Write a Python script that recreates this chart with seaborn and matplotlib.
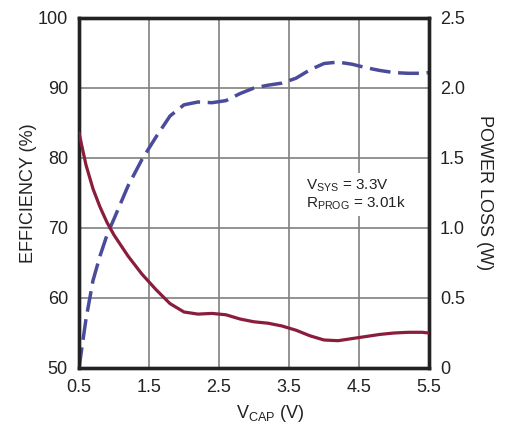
import matplotlib
matplotlib.use("Agg")
import matplotlib.pyplot as plt
import seaborn as sns
import pandas as pd

vcap = [0.5, 0.6, 0.7, 0.8, 0.9, 1.0, 1.2, 1.4, 1.6, 1.8, 2.0, 2.2, 2.4, 2.6, 2.8,
        3.0, 3.2, 3.4, 3.6, 3.8, 4.0, 4.2, 4.4, 4.6, 4.8, 5.0, 5.2, 5.4, 5.5]
efficiency = [50, 57, 62.5, 66, 69, 71.3, 76, 79.8, 83, 86, 87.6, 88.0, 87.9, 88.2, 89.2,
              90.0, 90.4, 90.7, 91.4, 92.6, 93.5, 93.7, 93.4, 92.9, 92.5, 92.2, 92.1, 92.1, 92.2]
power_loss = [1.68, 1.45, 1.28, 1.15, 1.04, 0.95, 0.80, 0.67, 0.56, 0.46, 0.40, 0.385, 0.39, 0.38, 0.35,
              0.33, 0.32, 0.30, 0.27, 0.23, 0.20, 0.195, 0.21, 0.225, 0.24, 0.25, 0.255, 0.255, 0.25]
x_ticks = [0.5, 1.5, 2.5, 3.5, 4.5, 5.5]
eff_ticks = [50, 60, 70, 80, 90, 100]
pl_ticks = [0, 0.5, 1.0, 1.5, 2.0, 2.5]
pl_labels = ["0", "0.5", "1.0", "1.5", "2.0", "2.5"]

df = pd.DataFrame({"vcap": vcap, "eff": efficiency, "pl": power_loss})

sns.set_style("white")
fam = "Liberation Sans"
plt.rcParams["font.family"] = [fam, "DejaVu Sans"]
plt.rcParams["mathtext.fontset"] = "custom"
plt.rcParams["mathtext.rm"] = fam

fig = plt.figure(figsize=(5.08, 4.28), dpi=100)
ax = fig.add_axes([79/508, 60/428, 350/508, 350/428])
ax2 = ax.twinx()

blue = "#4b4b9b"
red = "#8a1c3c"
ink = "#222222"

sns.lineplot(data=df, x="vcap", y="eff", ax=ax, color=blue, lw=2.5, zorder=3)
ax.lines[-1].set_dashes([6, 2.2])
sns.lineplot(data=df, x="vcap", y="pl", ax=ax2, color=red, lw=2.3, zorder=3)

ax.set_xlim(0.5, 5.5)
ax.set_ylim(50, 100)
ax2.set_ylim(0, 2.5)
ax.set_xticks(x_ticks)
ax.set_xticklabels([str(t) for t in x_ticks])
ax.set_yticks(eff_ticks)
ax2.set_yticks(pl_ticks)
ax2.set_yticklabels(pl_labels)

ax.grid(True, color="#808080", lw=1.2)
ax.set_axisbelow(True)
for a in (ax, ax2):
    for s in a.spines.values():
        s.set_color(ink)
        s.set_linewidth(2.4)
    a.tick_params(length=0, labelsize=13, pad=8, colors=ink)

ax.set_xlabel(r"$\mathregular{V_{CAP}}$ (V)", fontsize=13, color=ink)
ax.xaxis.set_label_coords(0.545, -0.1)
ax.set_ylabel("EFFICIENCY (%)", fontsize=13, color=ink)
ax.yaxis.set_label_coords(-0.12, 0.5)
ax2.set_ylabel("POWER LOSS (W)", fontsize=13, color=ink, rotation=-90, va="bottom")
ax2.yaxis.set_label_coords(1.133, 0.5)

ax2.text(3.74, 1.24, "$\\mathregular{V_{SYS}}$ = 3.3V\n$\\mathregular{R_{PROG}}$ = 3.01k",
         fontsize=11, color=ink, ha="left", va="center", linespacing=1.05,
         bbox=dict(facecolor="white", edgecolor="none", pad=3), zorder=2)

fig.savefig("out.png", dpi=100)
